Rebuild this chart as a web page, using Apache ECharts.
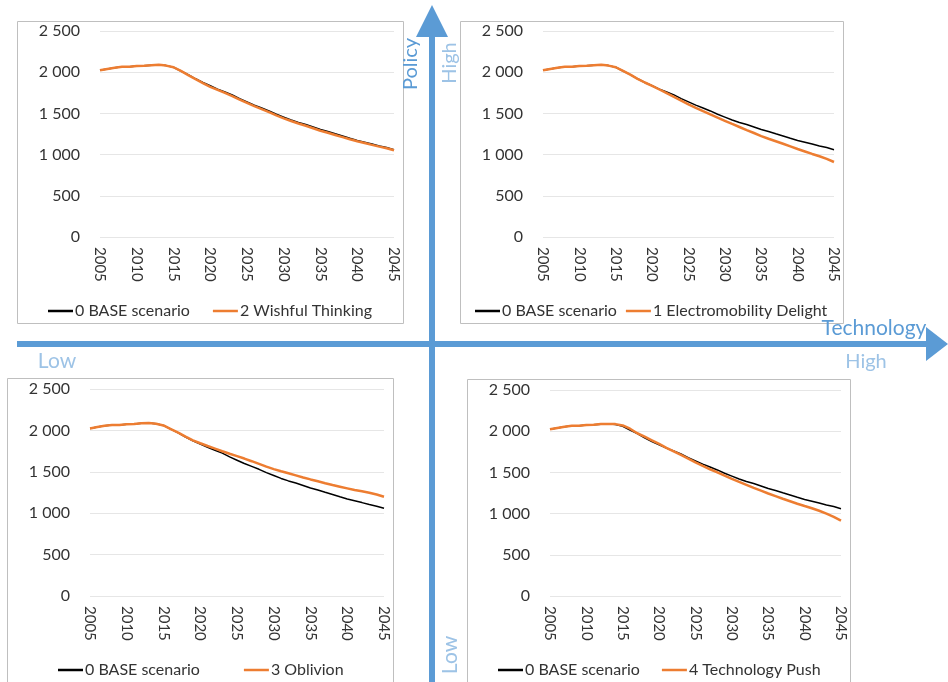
<!DOCTYPE html>
<html><head><meta charset="utf-8">
<script src="https://cdn.jsdelivr.net/npm/echarts@6/dist/echarts.min.js"></script>
<style>html,body{margin:0;padding:0;background:#fff}#c{width:948px;height:682px}</style>
</head><body><div id="c"></div>
<script>
const years = [2005,2006,2007,2008,2009,2010,2011,2012,2013,2014,2015,2016,2017,2018,2019,2020,2021,2022,2023,2024,2025,2026,2027,2028,2029,2030,2031,2032,2033,2034,2035,2036,2037,2038,2039,2040,2041,2042,2043,2044,2045];
const yTicks = [0,500,1000,1500,2000,2500];
const xTicks = [2005,2010,2015,2020,2025,2030,2035,2040,2045];

const base = [2023,2040,2055,2065,2065,2075,2077,2085,2090,2080,2060,2015,1970,1920,1875,1835,1795,1760,1725,1680,1640,1600,1565,1530,1490,1455,1420,1390,1365,1335,1305,1280,1252,1225,1198,1172,1150,1128,1105,1085,1060];
const wishful = [2023,2040,2055,2065,2065,2075,2077,2085,2090,2080,2060,2015,1965,1915,1868,1823,1785,1748,1710,1668,1628,1588,1552,1515,1477,1440,1408,1378,1350,1320,1290,1265,1238,1212,1186,1162,1140,1118,1097,1077,1052];
const electro = [2023,2040,2055,2065,2065,2075,2077,2085,2090,2080,2060,2015,1970,1920,1875,1835,1790,1745,1700,1655,1610,1568,1527,1487,1448,1410,1372,1335,1298,1262,1225,1192,1162,1132,1100,1068,1038,1008,980,948,910];
const oblivion = [2023,2040,2055,2065,2065,2075,2077,2085,2090,2080,2060,2015,1972,1925,1880,1845,1812,1780,1748,1718,1690,1660,1628,1595,1562,1532,1506,1482,1457,1432,1408,1385,1362,1340,1320,1300,1280,1265,1248,1225,1198];
const techPush = [2023,2040,2055,2065,2065,2075,2077,2088,2088,2086,2070,2030,1975,1935,1890,1845,1798,1755,1712,1668,1622,1578,1538,1500,1462,1422,1385,1348,1312,1278,1244,1212,1180,1150,1120,1092,1065,1035,1000,960,915];

const baseName = '0 BASE scenario';
const scenarioNames = ['2 Wishful Thinking','1 Electromobility Delight','3 Oblivion','4 Technology Push'];
const scenarioValues = [wishful, electro, oblivion, techPush];

const FONT = 'Lato, "Open Sans", sans-serif';
const BLUE = '#5B9BD5', LIGHT = '#9DC3E6', TXT = '#333333';

function fmt(v){ if(v>=1000){ return Math.floor(v/1000)+' '+String(v%1000).padStart(3,'0'); } return String(v); }
function pairs(arr){ return years.map((y,i)=>[y,arr[i]]); }

const grids = [
  {left:100, top:31, width:294, height:206},
  {left:543, top:31, width:291, height:206},
  {left:90,  top:389, width:294, height:207},
  {left:550, top:390, width:291, height:206}
];
const panels = [[17,21,386,302],[460,21,383,302],[7,378,386,320],[467,379,383,320]];
const legendPos = [
  {left:48, top:303, itemGap:23},
  {left:475, top:303, itemGap:9},
  {left:58, top:662, itemGap:44},
  {left:498, top:662, itemGap:22}
];

const option = {
  animation:false,
  textStyle:{fontFamily:FONT},
  grid: grids,
  xAxis: grids.map((g,i)=>({
    type:'value', gridIndex:i, min:xTicks[0], max:xTicks[xTicks.length-1], interval:5,
    axisLine:{show:false}, axisTick:{show:false}, splitLine:{show:false},
    axisLabel:{rotate:-90, color:TXT, fontSize:15, fontFamily:FONT, margin:10, formatter:v=>String(v)}
  })),
  yAxis: grids.map((g,i)=>({
    type:'value', gridIndex:i, min:yTicks[0], max:yTicks[yTicks.length-1], interval:500,
    axisLine:{show:false}, axisTick:{show:false},
    splitLine:{lineStyle:{color:'#e6e6e6', width:1}},
    axisLabel:{color:TXT, fontSize:16, fontFamily:FONT, margin:20, formatter:fmt}
  })),
  legend: legendPos.map((p,i)=>({
    left:p.left, top:p.top, itemGap:p.itemGap, padding:0, itemWidth:25, itemHeight:2.5, icon:'rect',
    data:[baseName, scenarioNames[i]],
    textStyle:{color:TXT, fontSize:16, fontFamily:FONT, padding:[0,0,0,-3]},
    selectedMode:false
  })),
  series: [],
  graphic: []
};

grids.forEach((g,i)=>{
  option.series.push({type:'line', name:baseName, xAxisIndex:i, yAxisIndex:i, data:pairs(base), symbol:'none',
    lineStyle:{color:'#000', width:1.5}, itemStyle:{color:'#000'}, z:2});
  option.series.push({type:'line', name:scenarioNames[i], xAxisIndex:i, yAxisIndex:i, data:pairs(scenarioValues[i]), symbol:'none',
    lineStyle:{color:'#ED7D31', width:2.5}, itemStyle:{color:'#ED7D31'}, z:3});
});

panels.forEach(p=>{
  option.graphic.push({type:'rect', shape:{x:p[0]+0.5,y:p[1]+0.5,width:p[2],height:p[3]}, style:{fill:'none', stroke:'#bfbfbf', lineWidth:1}, z:0, silent:true});
});
// quadrant arrows
option.graphic.push(
  {type:'rect', shape:{x:17,y:341,width:912,height:6}, style:{fill:BLUE}, z:1},
  {type:'polygon', shape:{points:[[926,327],[948,344],[926,361]]}, style:{fill:BLUE}, z:1},
  {type:'rect', shape:{x:429,y:34,width:6,height:660}, style:{fill:BLUE}, z:1},
  {type:'polygon', shape:{points:[[416,37],[432,5],[448,37]]}, style:{fill:BLUE}, z:1},
  {type:'text', x:411, y:64, rotation:Math.PI/2, style:{text:'Policy', fill:BLUE, font:'20px '+FONT, align:'center', verticalAlign:'middle'}, z:5},
  {type:'text', x:450, y:63, rotation:Math.PI/2, style:{text:'High', fill:LIGHT, font:'20px '+FONT, align:'center', verticalAlign:'middle'}, z:5},
  {type:'text', x:450, y:655, rotation:Math.PI/2, style:{text:'Low', fill:LIGHT, font:'21px '+FONT, align:'center', verticalAlign:'middle'}, z:5},
  {type:'text', x:874, y:328, style:{text:'Technology', fill:BLUE, font:'21px '+FONT, align:'center', verticalAlign:'middle'}, z:5},
  {type:'text', x:866, y:362, style:{text:'High', fill:LIGHT, font:'20px '+FONT, align:'center', verticalAlign:'middle'}, z:5},
  {type:'text', x:57, y:361, style:{text:'Low', fill:LIGHT, font:'21px '+FONT, align:'center', verticalAlign:'middle'}, z:5}
);

const chart = echarts.init(document.getElementById('c'), null, {renderer:'canvas'});
chart.setOption(option);
</script></body></html>
